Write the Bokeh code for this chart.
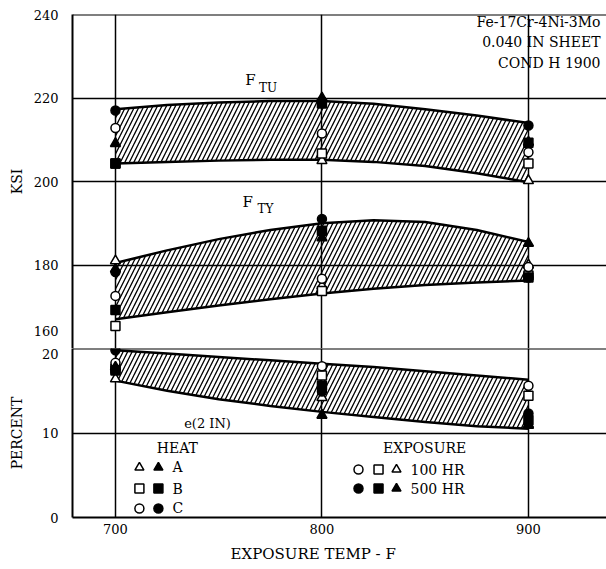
import numpy as np
from bokeh.plotting import figure
from bokeh.layouts import column
from bokeh.models import Span, Label, FixedTicker, Range1d, Title
from bokeh.embed import file_html
from bokeh.resources import INLINE

# ---------------- data ----------------
temps = [700, 800, 900]

# F_TU (ksi)  heat A/B/C, exposure 100/500 hr
ftu_A100 = [np.nan, 205.0, 200.2]
ftu_A500 = [209.1, 220.0, 209.4]
ftu_B100 = [204.3, 206.7, 204.3]
ftu_B500 = [204.3, 218.7, 209.3]
ftu_C100 = [212.8, 211.5, 207.0]
ftu_C500 = [217.0, 219.3, 213.4]

# F_TY (ksi)
fty_A100 = [181.0, 175.0, 180.0]
fty_A500 = [179.0, 186.5, 185.2]
fty_B100 = [165.4, 173.8, 177.5]
fty_B500 = [169.2, 188.2, 177.0]
fty_C100 = [172.6, 176.7, 179.5]
fty_C500 = [178.3, 191.0, 177.0]

# elongation e(2 IN), percent
el_A100 = [16.4, 14.2, 11.0]
el_A500 = [17.8, 12.1, 10.9]
el_B100 = [17.6, 16.8, 14.4]
el_B500 = [17.4, 15.6, 11.5]
el_C100 = [18.3, 17.9, 15.6]
el_C500 = [19.8, 14.9, 12.3]

# scatter bands
band_t = [700, 725, 750, 775, 800, 825, 850, 875, 900]
ftu_upper = [217.3, 218.3, 218.9, 219.3, 219.3, 218.6, 217.3, 215.8, 214.0]
ftu_lower = [204.3, 204.7, 205.0, 205.2, 205.2, 204.7, 203.7, 202.0, 199.8]
fty_upper = [180.5, 183.5, 186.2, 188.4, 190.0, 190.7, 190.3, 188.4, 185.5]
fty_lower = [167.0, 168.7, 170.3, 171.8, 173.2, 174.3, 175.2, 175.8, 176.3]
el_upper = [19.8, 19.4, 19.0, 18.6, 18.2, 17.8, 17.3, 16.8, 16.3]
el_lower = [16.2, 15.0, 14.0, 13.2, 12.5, 11.9, 11.3, 10.8, 10.5]

x_ticks = [700, 800, 900]
ksi_ticks = [180, 200, 220, 240]
ksi_break_label = "160"      # drawn just above the axis break
pct_ticks = [0, 10, 20]

FONT = "DejaVu Serif"

x_range = Range1d(679.2, 937.8)


def style(p):
    p.background_fill_color = "white"
    p.border_fill_color = "white"
    p.outline_line_color = None
    p.xgrid.ticker = FixedTicker(ticks=x_ticks)
    for g in (p.xgrid, p.ygrid):
        g.grid_line_color = "black"
        g.grid_line_width = 1.5
        g.grid_line_alpha = 1.0
    for ax in p.axis:
        ax.axis_line_color = "black"
        ax.axis_line_width = 2
        ax.major_tick_in = 0
        ax.major_tick_out = 0
        ax.minor_tick_line_color = None
        ax.major_label_text_font = FONT
        ax.major_label_text_font_size = "13px"
        ax.major_label_text_color = "black"
        ax.axis_label_text_font = FONT
        ax.axis_label_text_font_size = "14px"
        ax.axis_label_text_font_style = "normal"
        ax.axis_label_text_color = "black"


def lab(p, x, y, text, size=14, align="left", baseline="middle", **kw):
    p.add_layout(Label(x=x, y=y, text=text, text_font=FONT,
                       text_font_size=f"{size}px", text_align=align,
                       text_baseline=baseline, text_color="black", **kw))


def band(p, lower, upper):
    p.varea(x=band_t, y1=lower, y2=upper, fill_alpha=0,
            hatch_pattern="/", hatch_color="black", hatch_weight=1.3,
            hatch_scale=9)
    p.line(band_t, upper, line_color="black", line_width=2.5)
    p.line(band_t, lower, line_color="black", line_width=2.5)


def points(p, a100, a500, b100, b500, c100, c500):
    ms = dict(line_color="black", line_width=1.5)
    p.scatter(temps, a100, marker="triangle", size=10, fill_color="white", **ms)
    p.scatter(temps, b100, marker="square", size=9, fill_color="white", **ms)
    p.scatter(temps, c100, marker="circle", size=9, fill_color="white", **ms)
    p.scatter(temps, a500, marker="triangle", size=10, fill_color="black", **ms)
    p.scatter(temps, b500, marker="square", size=9, fill_color="black", **ms)
    p.scatter(temps, c500, marker="circle", size=9, fill_color="black", **ms)


# ---------------- top panel (ksi) ----------------
top = figure(width=606, height=348, x_range=x_range, y_range=Range1d(160, 240),
             x_axis_location=None, output_backend="svg", toolbar_location=None,
             min_border_left=72, min_border_right=0, min_border_top=14,
             min_border_bottom=0)
style(top)
# the "160" label sits a little above the break so it does not collide with "20"
break_pos = 164.3
top.yaxis.ticker = FixedTicker(ticks=[break_pos] + ksi_ticks)
top.yaxis.major_label_overrides = {break_pos: ksi_break_label}
top.ygrid.ticker = FixedTicker(ticks=[180, 200, 220])
top.yaxis.axis_label = "KSI"
top.yaxis.major_label_standoff = 14
top.yaxis.axis_label_standoff = 6
top.add_layout(Span(location=240, dimension="width", line_color="black", line_width=2))

band(top, ftu_lower, ftu_upper)
band(top, fty_lower, fty_upper)
points(top, ftu_A100, ftu_A500, ftu_B100, ftu_B500, ftu_C100, ftu_C500)
points(top, fty_A100, fty_A500, fty_B100, fty_B500, fty_C100, fty_C500)

lab(top, 762.9, 224.4, "F", size=15)
lab(top, 769.5, 222.3, "TU", size=12)
lab(top, 761.5, 195.0, "F", size=15)
lab(top, 768.8, 193.5, "TY", size=12)
lab(top, 934.9, 238.1, "Fe-17Cr-4Ni-3Mo", size=14, align="right")
lab(top, 934.9, 233.3, "0.040 IN SHEET", size=14, align="right")
lab(top, 934.9, 228.5, "COND H 1900", size=14, align="right")

# ---------------- bottom panel (percent) ----------------
bot = figure(width=606, height=221, x_range=x_range, y_range=Range1d(0, 20),
             output_backend="svg", toolbar_location=None,
             min_border_left=72, min_border_right=0, min_border_top=0,
             min_border_bottom=52)
style(bot)
bot.xaxis.ticker = FixedTicker(ticks=x_ticks)
bot.yaxis.ticker = FixedTicker(ticks=pct_ticks)
bot.ygrid.ticker = FixedTicker(ticks=[10])
bot.yaxis.axis_label = "PERCENT"
bot.yaxis.major_label_standoff = 14
bot.yaxis.axis_label_standoff = 14
bot.xaxis.major_label_standoff = 6
bot.add_layout(Span(location=20, dimension="width", line_color="black", line_width=2))

xt = Title(text="EXPOSURE TEMP - F", align="left", offset=158,
           text_font=FONT, text_font_size="15px", text_font_style="normal",
           text_color="black", standoff=13)
bot.add_layout(xt, "below")

band(bot, el_lower, el_upper)
points(bot, el_A100, el_A500, el_B100, el_B500, el_C100, el_C500)

lab(bot, 744.6, 11.1, "e(2 IN)", size=13, align="center")

# legend (layout positions)
lab(bot, 730.0, 8.17, "HEAT", size=14, align="center")
leg_heat_x = [711.6, 720.8]
leg_heat_y = [5.92, 3.43, 1.07]
for yy, mk, nm in zip(leg_heat_y, ["triangle", "square", "circle"], ["A", "B", "C"]):
    bot.scatter([leg_heat_x[0]], [yy], marker=mk, size=9, fill_color="white",
                line_color="black", line_width=1.5)
    bot.scatter([leg_heat_x[1]], [yy], marker=mk, size=9, fill_color="black",
                line_color="black", line_width=1.5)
    lab(bot, 727.6, yy, nm, size=14)

lab(bot, 849.7, 8.17, "EXPOSURE", size=14, align="center")
leg_exp_x = [817.7, 827.4, 836.1]
for yy, fc, nm in zip([5.68, 3.43], ["white", "black"], ["100 HR", "500 HR"]):
    for xx, mk in zip(leg_exp_x, ["circle", "square", "triangle"]):
        bot.scatter([xx], [yy], marker=mk, size=9, fill_color=fc,
                    line_color="black", line_width=1.5)
    lab(bot, 842.9, yy, nm, size=14)

layout = column(top, bot, spacing=0)
open("out.html", "w").write(file_html(layout, INLINE))
